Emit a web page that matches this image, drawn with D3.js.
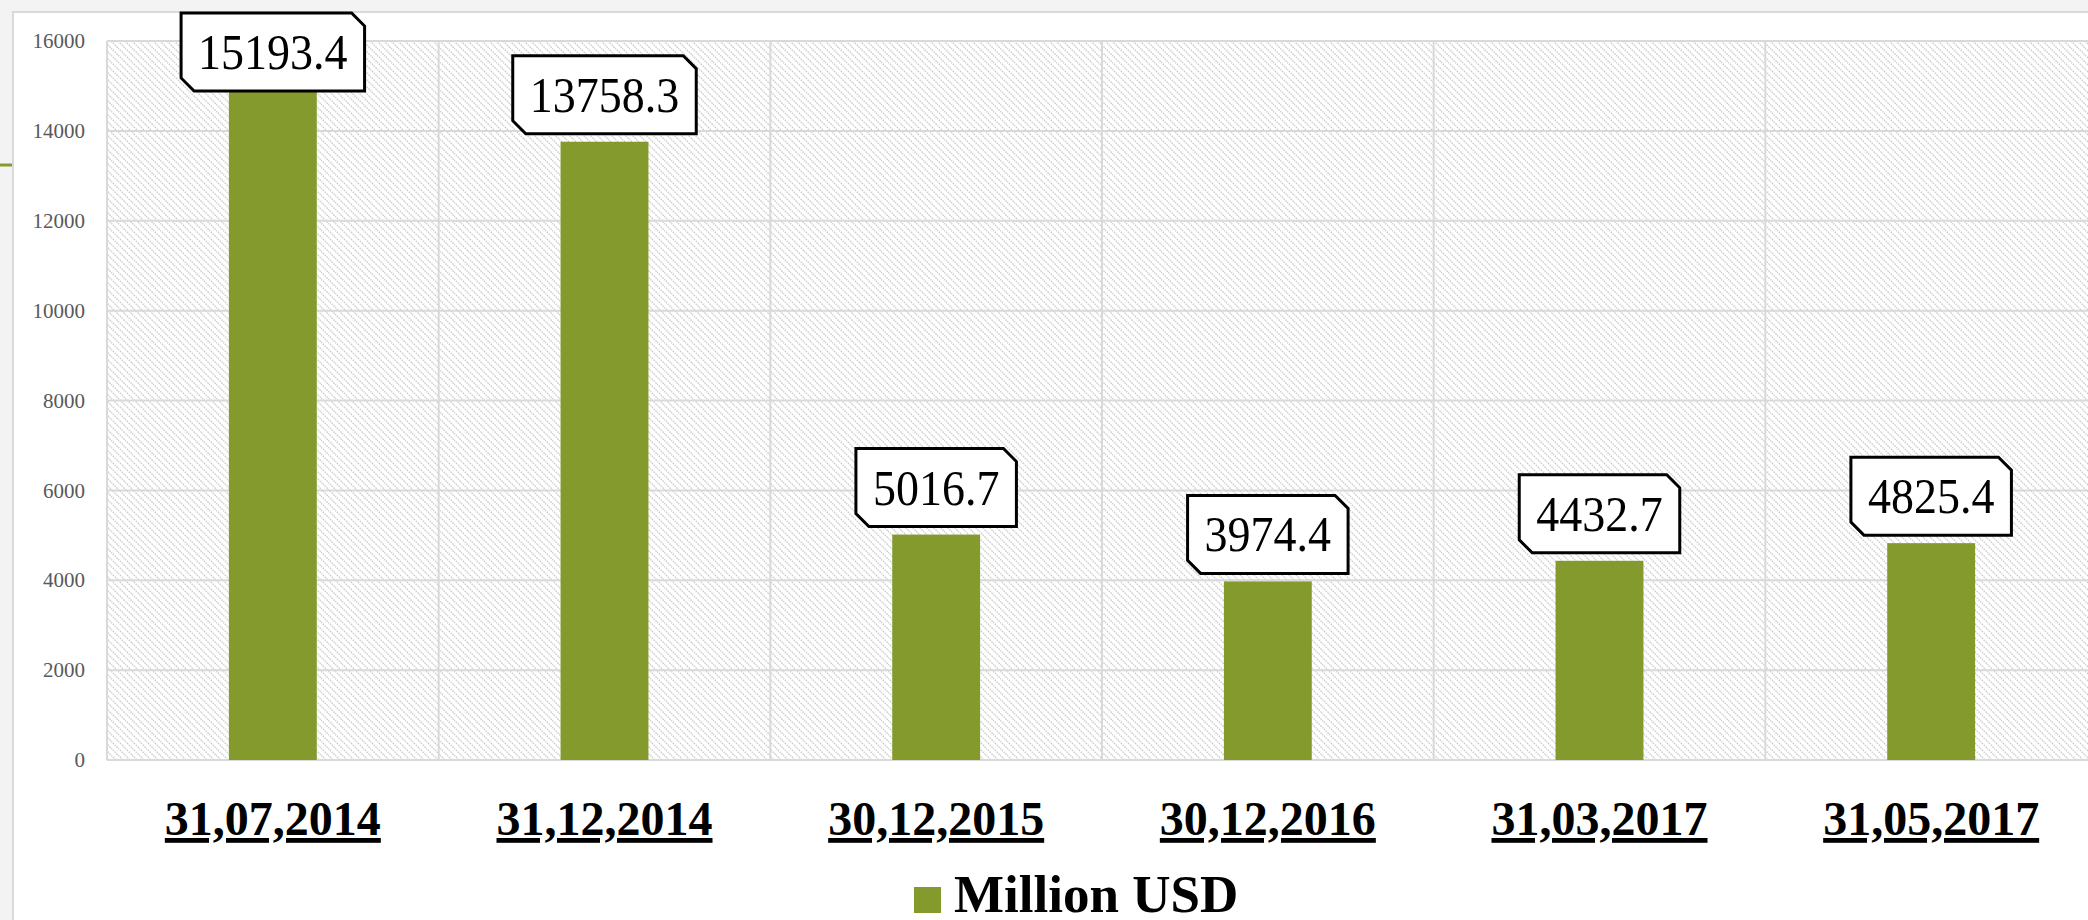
<!DOCTYPE html>
<html>
<head>
<meta charset="utf-8">
<script src="https://cdn.jsdelivr.net/npm/d3@7"></script>
<style>
  html, body { margin: 0; padding: 0; background: #f3f3f3; }
  svg { display: block; }
</style>
</head>
<body>
<svg id="chart" width="2088" height="920"></svg>
<script>
// Data
const dates = ['31,07,2014', '31,12,2014', '30,12,2015', '30,12,2016', '31,03,2017', '31,05,2017'];
const values = [15193.4, 13758.3, 5016.7, 3974.4, 4432.7, 4825.4];
const yTicks = [0, 2000, 4000, 6000, 8000, 10000, 12000, 14000, 16000];
const seriesName = 'Million USD';

const W = 2088, H = 920;
const GREEN = '#849a2d';
const GRID = '#d9d9d9';
const SERIF = '"Liberation Serif", "Times New Roman", serif';

// Chart frame (white card sitting on the grey slide)
const frame = { left: 13, top: 12 };
const plot = { left: 107, top: 41, right: 2097, bottom: 760 };

const svg = d3.select('#chart');

// Diagonal hatch used for the plot area fill
const defs = svg.append('defs');
const pat = defs.append('pattern')
    .attr('id', 'hatch')
    .attr('patternUnits', 'userSpaceOnUse')
    .attr('width', 7).attr('height', 7);
pat.append('rect').attr('width', 7).attr('height', 7).attr('fill', '#fff');
pat.append('path')
    .attr('d', 'M-1,-1 L8,8 M-1,6 L1,8 M6,-1 L8,1')
    .attr('stroke', '#cdcdcd')
    .attr('stroke-width', 1.4)
    .attr('stroke-dasharray', '1.6,1');

// Slide background + little green accent on the left edge
svg.append('rect').attr('width', W).attr('height', H).attr('fill', '#f3f3f3');
svg.append('line')
    .attr('x1', 0).attr('x2', frame.left - 1)
    .attr('y1', 165).attr('y2', 165)
    .attr('stroke', GREEN).attr('stroke-width', 3);

svg.append('rect')
    .attr('x', frame.left).attr('y', frame.top)
    .attr('width', W + 20).attr('height', H + 20)
    .attr('fill', '#fff')
    .attr('stroke', GRID).attr('stroke-width', 2);

// Scales
const x = d3.scaleBand().domain(dates).range([plot.left, plot.right]).padding(0);
const y = d3.scaleLinear().domain([0, 16000]).range([plot.bottom, plot.top]);
const barW = x.bandwidth() * 0.265;

// Plot area fill
svg.append('rect')
    .attr('x', plot.left).attr('y', plot.top)
    .attr('width', plot.right - plot.left).attr('height', plot.bottom - plot.top)
    .attr('fill', 'url(#hatch)');

// Gridlines
const grid = svg.append('g').attr('class', 'grid');
grid.selectAll('line.h')
    .data(yTicks)
    .join('line')
    .attr('class', 'h')
    .attr('x1', plot.left).attr('x2', plot.right)
    .attr('y1', d => y(d)).attr('y2', d => y(d))
    .attr('stroke', GRID).attr('stroke-width', 2);
grid.selectAll('line.v')
    .data(dates.concat(['end']))
    .join('line')
    .attr('class', 'v')
    .attr('x1', (d, i) => plot.left + i * x.step())
    .attr('x2', (d, i) => plot.left + i * x.step())
    .attr('y1', plot.top).attr('y2', plot.bottom)
    .attr('stroke', GRID).attr('stroke-width', 2);

// Y axis labels
const yAxis = svg.append('g')
    .attr('transform', `translate(${plot.left - 22},0)`)
    .call(d3.axisLeft(y).tickValues(yTicks).tickSize(0).tickPadding(0).tickFormat(d3.format('d')));
yAxis.select('.domain').remove();
yAxis.selectAll('text')
    .attr('font-family', SERIF)
    .attr('font-size', 21)
    .attr('fill', '#595959');

// X axis labels
const xAxis = svg.append('g')
    .attr('transform', `translate(0,${plot.bottom})`)
    .call(d3.axisBottom(x).tickSize(0).tickPadding(0));
xAxis.select('.domain').remove();
xAxis.selectAll('text')
    .attr('font-family', SERIF)
    .attr('font-size', 48)
    .attr('font-weight', 'bold')
    .attr('fill', '#000')
    .attr('text-decoration', 'underline')
    .attr('dy', null)
    .attr('y', 75);

// Bars
const rows = dates.map((d, i) => ({ date: d, value: values[i] }));
svg.append('g').selectAll('rect')
    .data(rows)
    .join('rect')
    .attr('x', d => x(d.date) + (x.bandwidth() - barW) / 2)
    .attr('y', d => y(d.value))
    .attr('width', barW)
    .attr('height', d => y(0) - y(d.value))
    .attr('fill', GREEN);

// Data labels in chamfered boxes (text is a bit taller than wide in the original)
const boxH = 78, padX = 17, gap = 8, cut = 13, stretch = 1.12;
const labels = svg.append('g').selectAll('g')
    .data(rows)
    .join('g');

labels.each(function (d) {
    const g = d3.select(this);
    const cx = x(d.date) + x.bandwidth() / 2;
    const top = Math.max(frame.top + 1, y(d.value) - gap - boxH);
    const txt = g.append('text')
        .attr('font-family', SERIF)
        .attr('font-size', 46)
        .attr('fill', '#000')
        .attr('text-anchor', 'middle')
        .text(d.value.toFixed(1));
    const tw = txt.node().getComputedTextLength();
    const bw = tw + padX * 2;
    const l = cx - bw / 2, r = cx + bw / 2, b = top + boxH;
    g.insert('path', 'text')
        .attr('d', `M${l},${top} L${r - cut},${top} L${r},${top + cut} L${r},${b} L${l + cut},${b} L${l},${b - cut} Z`)
        .attr('fill', '#fff')
        .attr('stroke', '#000')
        .attr('stroke-width', 3);
    const baseY = top + boxH / 2 + 17;
    txt.attr('transform', `translate(${cx},${baseY}) scale(1,${stretch})`);
});

// Legend
const legend = svg.append('g')
    .attr('transform', `translate(${(plot.left + plot.right) / 2 - 188},0)`);
legend.append('rect')
    .attr('x', 0).attr('y', 887)
    .attr('width', 27).attr('height', 26)
    .attr('fill', GREEN);
legend.append('text')
    .attr('x', 40).attr('y', 912)
    .attr('font-family', SERIF)
    .attr('font-size', 53)
    .attr('font-weight', 'bold')
    .attr('fill', '#000')
    .text(seriesName);
</script>
</body>
</html>
